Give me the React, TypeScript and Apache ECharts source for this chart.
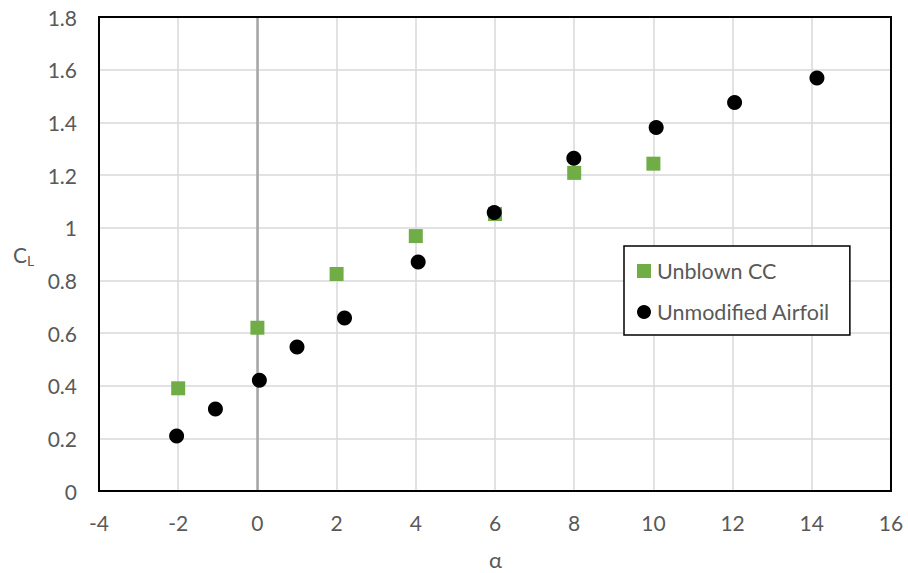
import React, { useEffect, useRef } from "react";
import * as echarts from "echarts";

const unblownAlpha = [-2, 0, 2, 4, 6, 8, 10];
const unblownCL = [0.39, 0.62, 0.824, 0.968, 1.052, 1.208, 1.243];

const airfoilAlpha = [-2.04, -1.06, 0.05, 1.0, 2.2, 4.06, 5.98, 7.99, 10.07, 12.05, 14.13];
const airfoilCL = [0.209, 0.311, 0.421, 0.547, 0.657, 0.87, 1.058, 1.264, 1.38, 1.475, 1.568];

const xTicks = { min: -4, max: 16, interval: 2 };
const yTicks = { min: 0, max: 1.8, interval: 0.2 };

const FONT = "Lato";
const TEXT = "#595959";

export default function App() {
  const ref = useRef<HTMLDivElement>(null);
  useEffect(() => {
    document.body.style.margin = "0";
    if (!ref.current) return;
    const chart = echarts.init(ref.current, undefined, { renderer: "svg" });
    chart.setOption({
      animation: false,
      backgroundColor: "#fff",
      textStyle: { fontFamily: FONT },
      grid: {
        left: 99,
        top: 17,
        right: 17,
        bottom: 82,
        show: true,
        borderColor: "#000",
        borderWidth: 2,
        z: 3,
      },
      xAxis: {
        type: "value",
        min: xTicks.min,
        max: xTicks.max,
        interval: xTicks.interval,
        axisLine: { show: false },
        axisTick: { show: false },
        axisLabel: { color: TEXT, fontSize: 21, fontFamily: FONT, margin: 21 },
        splitLine: { show: true, showMinLine: false, showMaxLine: false, lineStyle: { color: "#d9d9d9", width: 1.5 } },
      },
      yAxis: {
        type: "value",
        min: yTicks.min,
        max: yTicks.max,
        interval: yTicks.interval,
        axisLine: { show: false },
        axisTick: { show: false },
        axisLabel: {
          color: TEXT,
          fontSize: 21,
          fontFamily: FONT,
          margin: 22,
          formatter: (v: number) => String(Math.round(v * 10) / 10),
        },
        splitLine: { show: true, showMinLine: false, showMaxLine: false, lineStyle: { color: "#d9d9d9", width: 1.5 } },
      },
      legend: {
        orient: "vertical",
        left: 624,
        top: 246,
        padding: [14, 20, 12, 13],
        itemGap: 19,
        itemWidth: 14,
        itemHeight: 14,
        borderColor: "#000",
        borderWidth: 1.5,
        backgroundColor: "#fff",
        textStyle: { color: TEXT, fontSize: 21.5, fontFamily: FONT, padding: [0, 0, 0, 1] },
        data: [
          { name: "Unblown CC", icon: "rect", itemStyle: { opacity: 1 } },
          { name: "Unmodified Airfoil", icon: "circle", itemStyle: { opacity: 1 } },
        ],
      },
      graphic: [
        {
          type: "text",
          left: 13,
          top: 244,
          style: {
            text: "{c|C}{s|L}",
            rich: {
              c: { fontSize: 21, fontFamily: FONT, fill: TEXT },
              s: { fontSize: 14, fontFamily: FONT, fill: TEXT, padding: [12, 0, 0, 0] },
            },
          },
        },
        {
          type: "text",
          left: 489,
          top: 548,
          style: { text: "α", fontSize: 22, fontFamily: FONT, fill: TEXT },
        },
      ],
      series: [
        {
          name: "Unblown CC",
          type: "scatter",
          symbol: "rect",
          symbolSize: 14,
          itemStyle: { color: "#70ad47", opacity: 1 },
          data: unblownAlpha.map((a, i) => [a, unblownCL[i]]),
          z: 2,
        },
        {
          name: "Unmodified Airfoil",
          type: "scatter",
          symbol: "circle",
          symbolSize: 15,
          itemStyle: { color: "#000", opacity: 1 },
          data: airfoilAlpha.map((a, i) => [a, airfoilCL[i]]),
          z: 3,
          markLine: {
            silent: true,
            symbol: "none",
            label: { show: false },
            lineStyle: { color: "#a6a6a6", width: 2.5, type: "solid", opacity: 1 },
            data: [{ xAxis: 0 }],
            z: 1,
          },
        },
      ],
    });
    return () => chart.dispose();
  }, []);
  return <div ref={ref} style={{ width: 908, height: 573 }} />;
}
